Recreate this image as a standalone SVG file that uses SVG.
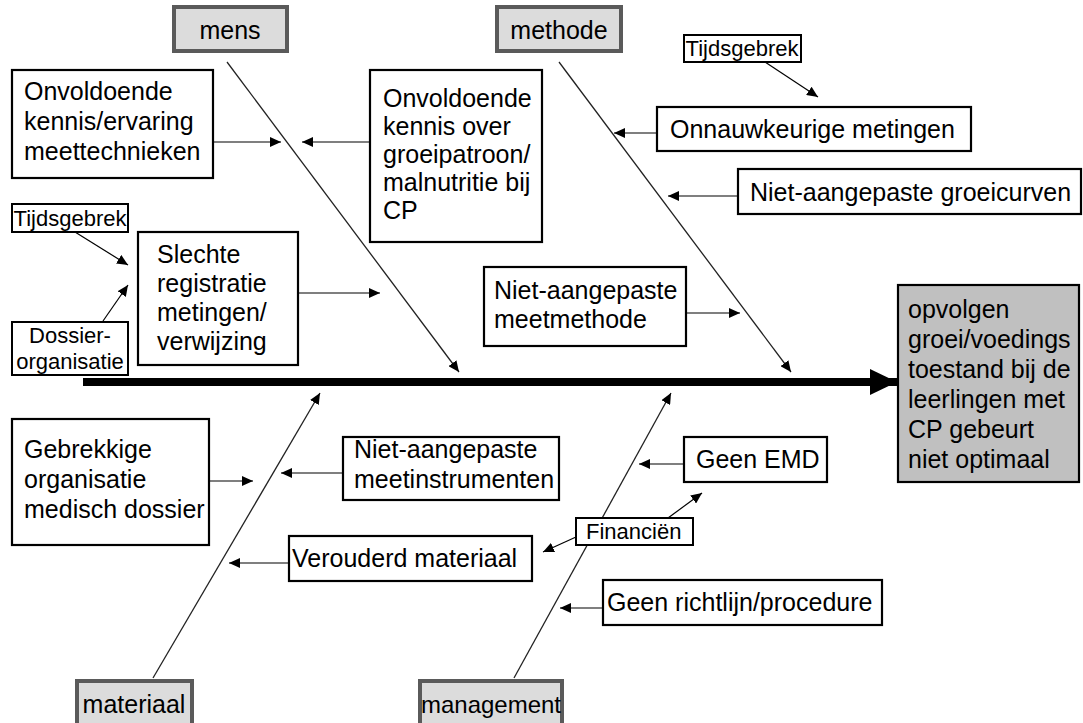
<svg xmlns="http://www.w3.org/2000/svg" width="1083" height="723" viewBox="0 0 1083 723">
  <style>
    text { font-family: "Liberation Sans", Arial, sans-serif; fill: #000; }
    .t { font-size: 25px; }
    .s { font-size: 22px; }
    .c { text-anchor: middle; }
    .box { fill: #fff; stroke: #000; stroke-width: 2.2; }
    .sbox { fill: #fff; stroke: #000; stroke-width: 2; }
    .cat { fill: #dcdcdc; stroke: #5a5a5a; stroke-width: 4; }
    .head { fill: #c0c0c0; stroke: #000; stroke-width: 2.2; }
    .bone { stroke: #222; stroke-width: 1.3; fill: none; marker-end: url(#ah); }
    .arr { stroke: #000; stroke-width: 1.2; fill: none; marker-end: url(#ah); }
  </style>
  <defs>
    <marker id="ah" markerUnits="userSpaceOnUse" markerWidth="12" markerHeight="10" refX="11" refY="5" orient="auto">
      <path d="M0,0 L11,5 L0,10 Z" fill="#000"/>
    </marker>
    <marker id="big" markerUnits="userSpaceOnUse" markerWidth="28" markerHeight="28" refX="27" refY="13" orient="auto">
      <path d="M0,0 L27,13 L0,26 Z" fill="#000"/>
    </marker>
  </defs>
  <rect width="1083" height="723" fill="#fff"/>

  <g id="connectors">
    <line x1="83" y1="382" x2="897" y2="382" stroke="#000" stroke-width="8" marker-end="url(#big)"/>
    <line class="bone" x1="227" y1="62" x2="459" y2="372"/>
    <line class="bone" x1="559" y1="62" x2="791" y2="372"/>
    <line class="bone" x1="153" y1="678" x2="320" y2="393"/>
    <line class="bone" x1="514" y1="678" x2="671" y2="393"/>
    <line class="arr" x1="213" y1="142" x2="281" y2="142"/>
    <line class="arr" x1="370" y1="142" x2="302" y2="142"/>
    <line class="arr" x1="75" y1="232" x2="128" y2="265"/>
    <line class="arr" x1="103" y1="321" x2="128" y2="285"/>
    <line class="arr" x1="298" y1="293" x2="380" y2="293"/>
    <line class="arr" x1="765" y1="62" x2="818" y2="97"/>
    <line class="arr" x1="657" y1="133" x2="614" y2="133"/>
    <line class="arr" x1="738" y1="196" x2="668" y2="196"/>
    <line class="arr" x1="686" y1="313" x2="740" y2="313"/>
    <line class="arr" x1="209" y1="481" x2="253" y2="481"/>
    <line class="arr" x1="343" y1="473" x2="281" y2="473"/>
    <line class="arr" x1="289" y1="563" x2="229" y2="563"/>
    <line class="arr" x1="576" y1="537" x2="543" y2="552"/>
    <line class="arr" x1="668" y1="518" x2="702" y2="493"/>
    <line class="arr" x1="684" y1="464" x2="639" y2="464"/>
    <line class="arr" x1="603" y1="608" x2="560" y2="608"/>
  </g>

  <g id="cat-mens">
    <rect class="cat" x="174" y="7" width="113" height="44"/>
    <text class="t c" x="230" y="39">mens</text>
  </g>
  <g id="cat-methode">
    <rect class="cat" x="497" y="7" width="124" height="44"/>
    <text class="t c" x="559" y="39">methode</text>
  </g>
  <g id="cat-materiaal">
    <rect class="cat" x="77" y="681" width="115" height="48"/>
    <text class="t c" x="134" y="713">materiaal</text>
  </g>
  <g id="cat-management">
    <rect class="cat" x="420" y="681" width="142" height="48"/>
    <text class="t c" x="491" y="713" style="font-size:24px">management</text>
  </g>

  <g id="head">
    <rect class="head" x="898" y="285" width="181" height="197"/>
    <text class="t" x="908" y="318">opvolgen</text>
    <text class="t" x="908" y="348">groei/voedings</text>
    <text class="t" x="908" y="378">toestand bij de</text>
    <text class="t" x="908" y="408">leerlingen met</text>
    <text class="t" x="908" y="438">CP gebeurt</text>
    <text class="t" x="908" y="468">niet optimaal</text>
  </g>

  <g id="n-kennis-ervaring">
    <rect class="box" x="12" y="70" width="201" height="108"/>
    <text class="t" x="24" y="100">Onvoldoende</text>
    <text class="t" x="24" y="130">kennis/ervaring</text>
    <text class="t" x="24" y="160">meettechnieken</text>
  </g>
  <g id="n-kennis-groei">
    <rect class="box" x="370" y="70" width="172" height="172"/>
    <text class="t" x="383" y="107">Onvoldoende</text>
    <text class="t" x="383" y="135">kennis over</text>
    <text class="t" x="383" y="163">groeipatroon/</text>
    <text class="t" x="383" y="191">malnutritie bij</text>
    <text class="t" x="383" y="219">CP</text>
  </g>
  <g id="n-tijd1">
    <rect class="sbox" x="12" y="204" width="116" height="28"/>
    <text class="s c" x="70" y="226">Tijdsgebrek</text>
  </g>
  <g id="n-dossier">
    <rect class="sbox" x="12" y="322" width="116" height="53"/>
    <text class="s c" x="70" y="343">Dossier-</text>
    <text class="s c" x="70" y="369">organisatie</text>
  </g>
  <g id="n-registratie">
    <rect class="box" x="138" y="232" width="160" height="133"/>
    <text class="t" x="157" y="263">Slechte</text>
    <text class="t" x="157" y="292">registratie</text>
    <text class="t" x="157" y="321">metingen/</text>
    <text class="t" x="157" y="350">verwijzing</text>
  </g>
  <g id="n-tijd2">
    <rect class="sbox" x="684" y="35" width="117" height="27"/>
    <text class="s c" x="742" y="56">Tijdsgebrek</text>
  </g>
  <g id="n-onnauwkeurig">
    <rect class="box" x="657" y="107" width="314" height="44"/>
    <text class="t" x="670" y="138">Onnauwkeurige metingen</text>
  </g>
  <g id="n-groeicurven">
    <rect class="box" x="738" y="169" width="343" height="45"/>
    <text class="t" x="750" y="201">Niet-aangepaste groeicurven</text>
  </g>
  <g id="n-meetmethode">
    <rect class="box" x="484" y="267" width="202" height="79"/>
    <text class="t" x="494" y="299">Niet-aangepaste</text>
    <text class="t" x="494" y="328">meetmethode</text>
  </g>
  <g id="n-gebrekkig">
    <rect class="box" x="12" y="419" width="197" height="126"/>
    <text class="t" x="24" y="458">Gebrekkige</text>
    <text class="t" x="24" y="488">organisatie</text>
    <text class="t" x="24" y="518">medisch dossier</text>
  </g>
  <g id="n-meetinstrumenten">
    <rect class="box" x="343" y="437" width="216" height="63"/>
    <text class="t" x="354" y="458">Niet-aangepaste</text>
    <text class="t" x="354" y="488">meetinstrumenten</text>
  </g>
  <g id="n-verouderd">
    <rect class="box" x="289" y="536" width="243" height="45"/>
    <text class="t" x="292" y="567">Verouderd materiaal</text>
  </g>
  <g id="n-financien">
    <rect class="sbox" x="576" y="518" width="117" height="27"/>
    <text class="s" x="586" y="539">Financiën</text>
  </g>
  <g id="n-emd">
    <rect class="box" x="684" y="437" width="143" height="45"/>
    <text class="t" x="696" y="468">Geen EMD</text>
  </g>
  <g id="n-richtlijn">
    <rect class="box" x="603" y="580" width="279" height="45"/>
    <text class="t" x="607" y="611">Geen richtlijn/procedure</text>
  </g>
</svg>
